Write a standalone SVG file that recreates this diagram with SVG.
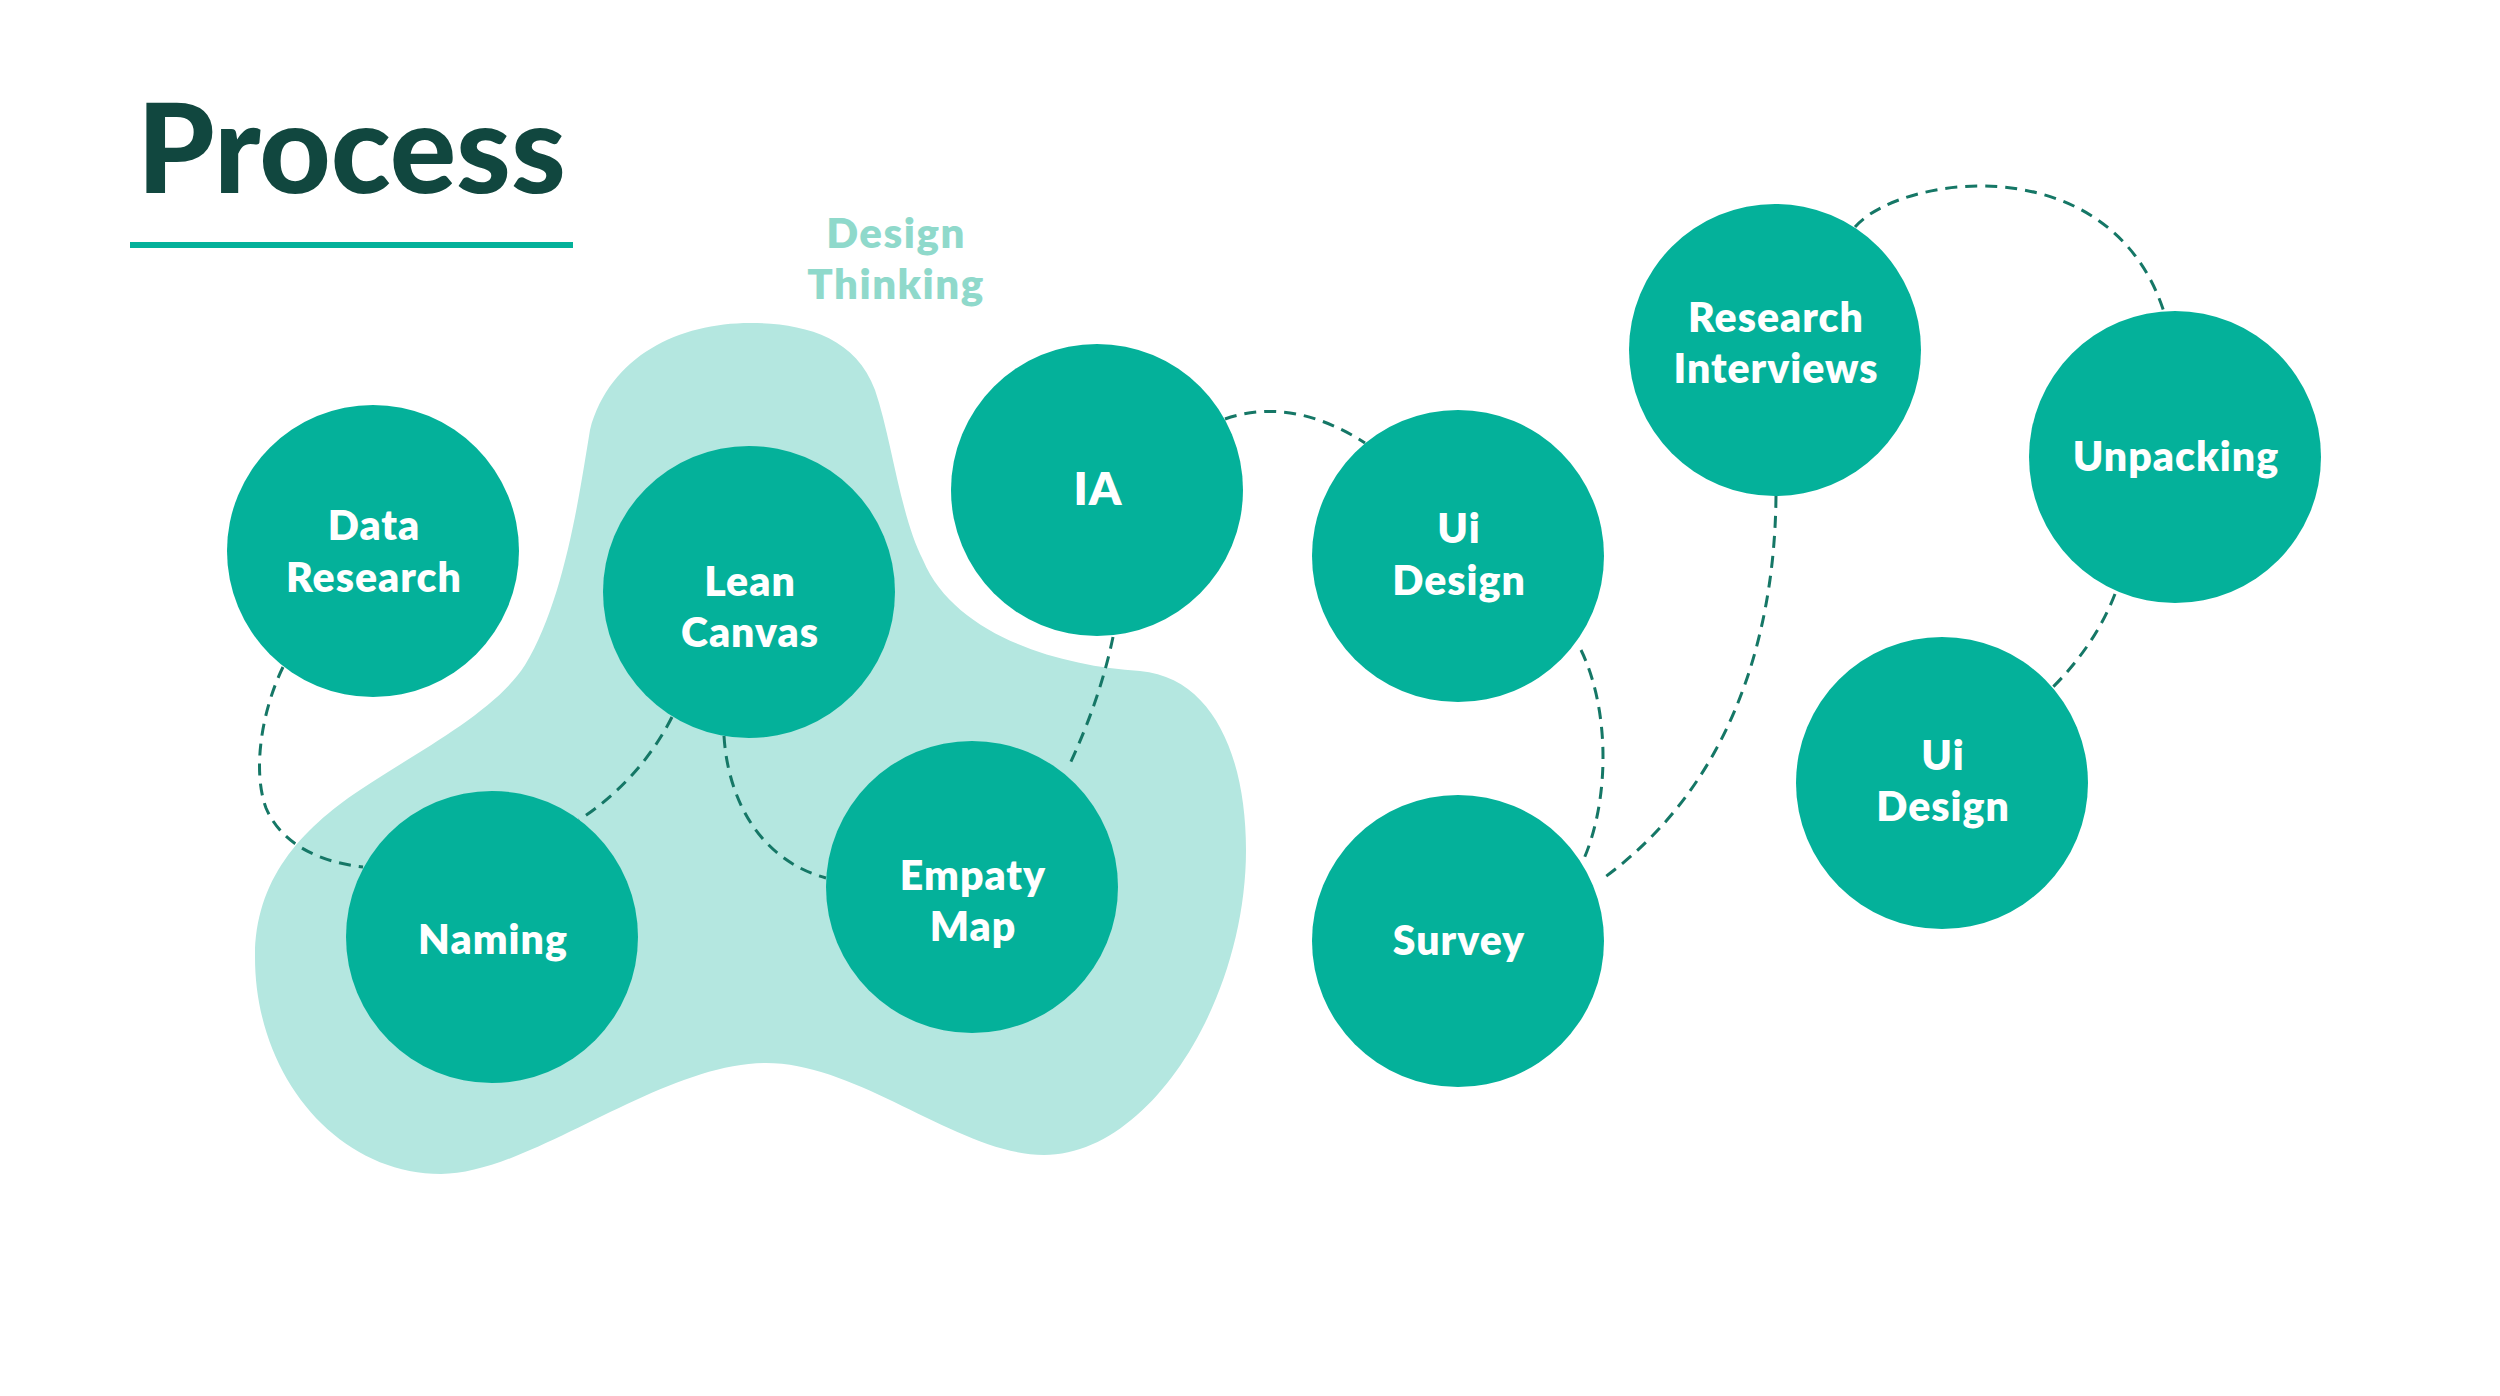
<svg xmlns="http://www.w3.org/2000/svg" width="2500" height="1396" viewBox="0 0 2500 1396">
<style>
.node{fill:#04B19A}
.lbl{font-family:Lato,"Open Sans","Liberation Sans",sans-serif;font-weight:800;font-size:41px;letter-spacing:1px;fill:#FFFFFF;text-anchor:middle}
.dt{font-family:Lato,"Open Sans","Liberation Sans",sans-serif;font-weight:800;font-size:42px;letter-spacing:1.5px;fill:#8FD9CB;text-anchor:middle}
.con{fill:none;stroke:#157766;stroke-width:3;stroke-dasharray:12 8}
</style>
<rect width="2500" height="1396" fill="#FFFFFF"/>
<g id="title">
<text x="137" y="193" style="font-family:Lato,'Liberation Sans',sans-serif;font-weight:900;font-size:124px;fill:#11473F">Process</text>
<rect x="130" y="242" width="443" height="6" fill="#04B19A"/>
</g>
<g id="design-thinking">
<path fill="#B4E7E0" d="M750,323 C680,323 610,355 590,430 C580,490 565,600 525,665 C495,712 420,750 360,790 C300,830 255,880 255,957 C255,1077 338,1174 441,1174 C530,1174 660,1063 766,1063 C860,1063 960,1155 1044,1155 C1150,1155 1246,1000 1246,850 C1246,760 1215,678 1140,671 C1060,666 955,636 923,560 C900,515 892,440 875,390 C855,335 800,323 750,323 Z"/>
<text class="dt" x="896" y="248">Design</text>
<text class="dt" x="896" y="299">Thinking</text>
</g>
<g id="connectors">
<path class="con" d="M283,667 C262,710 252,770 266,808 C282,845 320,862 363,867"/>
<path class="con" d="M672,717 Q640,780 579,820"/>
<path class="con" d="M724,736 C728,800 760,860 826,878"/>
<path class="con" d="M1113,637 Q1100,700 1068,768"/>
<path class="con" d="M1225,419 Q1292,396 1365,443"/>
<path class="con" d="M1581,650 C1610,710 1610,800 1583,861"/>
<path class="con" d="M1776,496 C1775,620 1740,780 1601,880"/>
<path class="con" d="M1855,227 C1900,175 2110,145 2164,312"/>
<path class="con" d="M2115,594 Q2095,645 2053,687"/>
</g>
<g id="node-data-research">
<circle class="node" cx="373" cy="551" r="146"/>
<text class="lbl" x="374" y="540">Data</text>
<text class="lbl" x="374" y="592">Research</text>
</g>
<g id="node-lean-canvas">
<circle class="node" cx="749" cy="592" r="146"/>
<text class="lbl" x="750" y="596">Lean</text>
<text class="lbl" x="750" y="647">Canvas</text>
</g>
<g id="node-ia">
<circle class="node" cx="1097" cy="490" r="146"/>
<text class="lbl" x="1098" y="505" style="font-size:46px">IA</text>
</g>
<g id="node-ui-design-1">
<circle class="node" cx="1458" cy="556" r="146"/>
<text class="lbl" x="1459" y="543">Ui</text>
<text class="lbl" x="1459" y="595">Design</text>
</g>
<g id="node-research-interviews">
<circle class="node" cx="1775" cy="350" r="146"/>
<text class="lbl" x="1776" y="332">Research</text>
<text class="lbl" x="1776" y="383">Interviews</text>
</g>
<g id="node-unpacking">
<circle class="node" cx="2175" cy="457" r="146"/>
<text class="lbl" x="2176" y="471">Unpacking</text>
</g>
<g id="node-ui-design-2">
<circle class="node" cx="1942" cy="783" r="146"/>
<text class="lbl" x="1943" y="770">Ui</text>
<text class="lbl" x="1943" y="821">Design</text>
</g>
<g id="node-survey">
<circle class="node" cx="1458" cy="941" r="146"/>
<text class="lbl" x="1459" y="955">Survey</text>
</g>
<g id="node-naming">
<circle class="node" cx="492" cy="937" r="146"/>
<text class="lbl" x="493" y="954">Naming</text>
</g>
<g id="node-empaty-map">
<circle class="node" cx="972" cy="887" r="146"/>
<text class="lbl" x="973" y="890">Empaty</text>
<text class="lbl" x="973" y="941">Map</text>
</g>
</svg>
